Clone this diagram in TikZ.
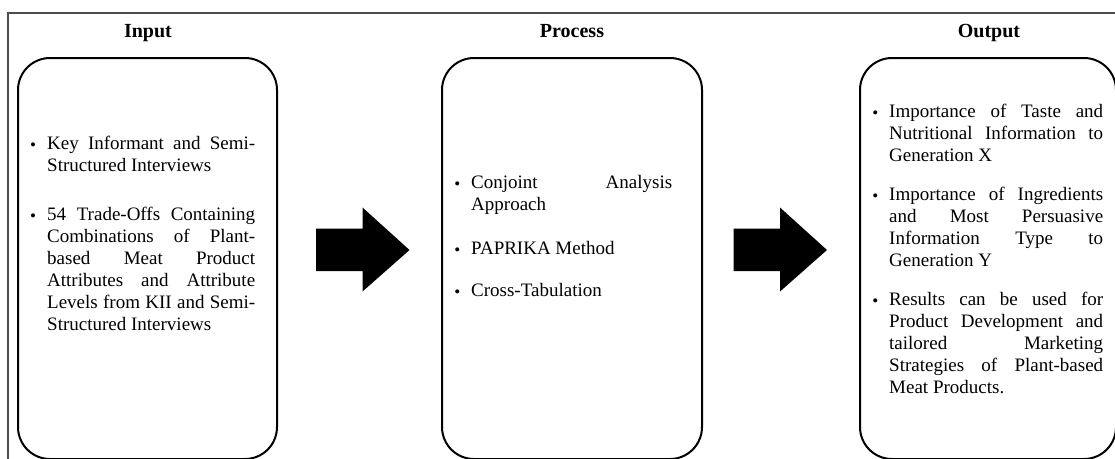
\documentclass[tikz,border=0pt]{standalone}
\usepackage{fontspec}
\setmainfont{Liberation Serif}
\newcommand\itembul{\leavevmode\llap{\raisebox{-1pt}{\fontsize{17}{17}\selectfont\textbullet}\hspace{11pt}}}
\begin{document}
\begin{tikzpicture}[x=1pt,y=-1pt,
  frame/.style={draw=black!70, line width=1.5pt},
  panel/.style={draw=black, line width=2pt, rounded corners=32pt, minimum width=#1, minimum height=401pt, inner sep=0pt},
  title/.style={font=\fontsize{20}{24}\selectfont\bfseries, anchor=base, inner sep=0pt},
  item/.style={font=\fontsize{19}{22}\selectfont, anchor=base west, inner sep=0pt, align=justify, text width=#1,
    execute at begin node={\tolerance=10000\hyphenpenalty=10000\emergencystretch=0pt}},
  blockarrow/.style={fill=black, draw=none}]
\useasboundingbox (0,0) rectangle (1115,458);
% outer frame
\coordinate (fr) at (1116,13);
\coordinate (fc) at (8,13);
\coordinate (fb) at (8,459);
\draw[frame] (fr) -- (fc) -- (fb);
% titles
\node[title] (tin) at (148,37) {Input};
\node[title] (tpr) at (572,37) {Process};
\node[title] (tout) at (989,37) {Output};
% panels
\node[panel=259pt] (pin) at (147.5,258.5) {};
\node[panel=260pt] (ppr) at (572,258.5) {};
\node[panel=256pt] (pout) at (988,258.5) {};
% block arrows
\fill[blockarrow] (316,228.5) -- (362.5,228.5) -- (362.5,207.5) -- (409.5,250) -- (362.5,291.5) -- (362.5,271) -- (316,271) -- cycle;
\fill[blockarrow] (733.5,228.5) -- (780,228.5) -- (780,207.5) -- (827,250) -- (780,291.5) -- (780,271) -- (733.5,271) -- cycle;
% input items
\node[item=208pt] (i1) at (47,149.3) {\itembul Key Informant and Semi-\linebreak Structured Interviews};
\node[item=208pt] (i2) at (47,220) {\itembul 54 Trade-Offs Containing\linebreak Combinations of Plant-\linebreak based Meat Product\linebreak Attributes and Attribute\linebreak Levels from KII and Semi-\linebreak Structured Interviews};
% process items
\node[item=201pt] (p1) at (471,188.7) {\itembul Conjoint Analysis\linebreak Approach};
\node[item=201pt] (p2) at (471,254.3) {\itembul PAPRIKA Method};
\node[item=201pt] (p3) at (471,296.7) {\itembul Cross-Tabulation};
% output items
\node[item=214pt] (o1) at (889,117.7) {\itembul Importance of Taste and\linebreak Nutritional Information to\linebreak Generation X};
\node[item=214pt] (o2) at (889,200) {\itembul Importance of Ingredients\linebreak and Most Persuasive\linebreak Information Type to\linebreak Generation Y};
\node[item=214pt] (o3) at (889,305) {\itembul Results can be used for\linebreak Product Development and\linebreak tailored Marketing\linebreak Strategies of Plant-based\linebreak Meat Products.};
\end{tikzpicture}
\end{document}
